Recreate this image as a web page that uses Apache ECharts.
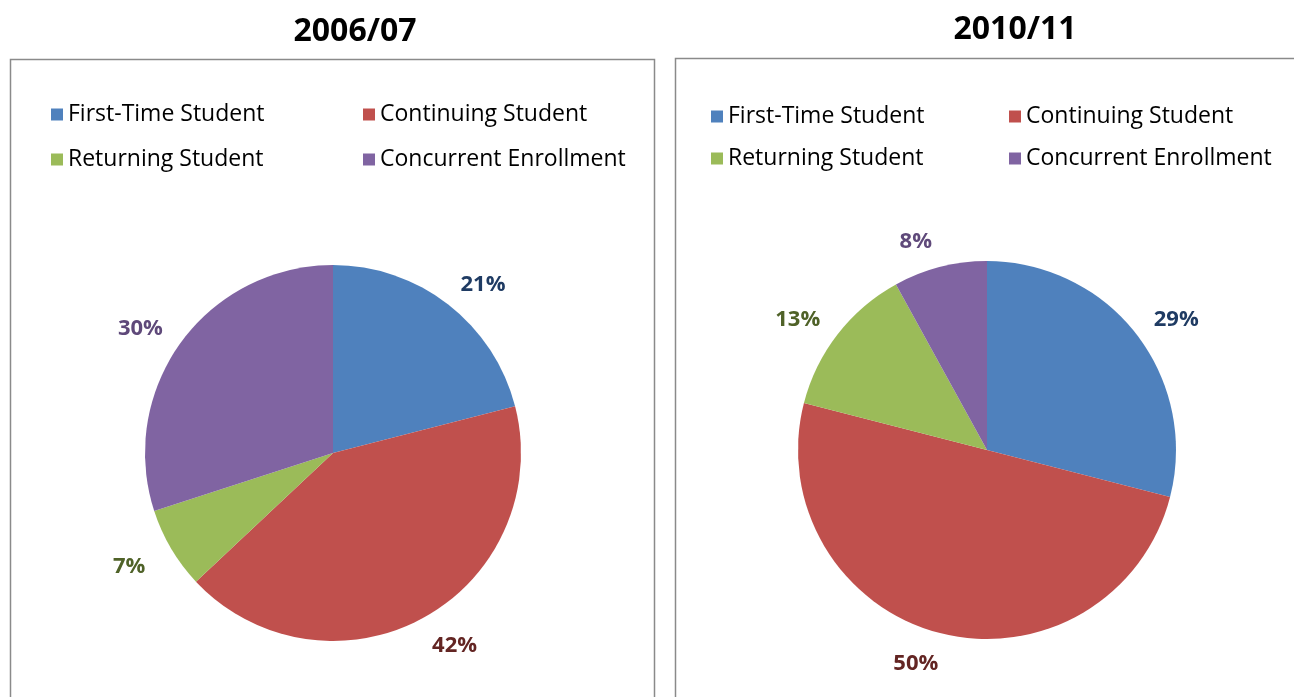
<!DOCTYPE html>
<html>
<head>
<meta charset="utf-8">
<script src="https://cdn.jsdelivr.net/npm/echarts@6/dist/echarts.min.js"></script>
<style>
  html, body { margin: 0; padding: 0; background: #fff; }
  #chart { width: 1294px; height: 697px; }
</style>
</head>
<body>
<div id="chart"></div>
<script>
const categories = ["First-Time Student", "Continuing Student", "Returning Student", "Concurrent Enrollment"];
const years = ["2006/07", "2010/11"];
const shares2006 = [21, 42, 7, 30];
const shares2010 = [29, 50, 13, 8];

const sliceColors = ["#4F81BD", "#C0504D", "#9BBB59", "#8064A2"];
const labelColors = ["#1F3B63", "#632523", "#4F6228", "#5F497A"];
const FONT = "'Open Sans', 'Noto Sans', sans-serif";

const chart = echarts.init(document.getElementById("chart"));

// place each % label just past the end of the (hidden) radial label line,
// nudged sideways a little like Excel's best-fit labels
function placeLabel(params) {
  const pts = params.labelLinePoints;
  if (!pts || pts.length < 2) return {};
  const side = pts[1][0] >= pts[0][0] ? 1 : -1;
  return { x: pts[1][0] + side * 17, y: pts[1][1] + 3, align: "center", verticalAlign: "middle" };
}

function buildPie(values, center, radius) {
  return {
    type: "pie",
    center,
    radius,
    startAngle: 90,
    clockwise: true,
    avoidLabelOverlap: false,
    silent: true,
    animation: false,
    label: {
      show: true,
      position: "outside",
      formatter: "{c}%",
      fontFamily: FONT,
      fontWeight: "bold",
      fontSize: 22,
    },
    labelLine: { show: true, length: 29, length2: 0, lineStyle: { width: 0, opacity: 0 } },
    labelLayout: placeLabel,
    itemStyle: { borderWidth: 0 },
    data: values.map((v, i) => ({
      name: categories[i],
      value: v,
      itemStyle: { color: sliceColors[i] },
      label: { color: labelColors[i] },
    })),
  };
}

function buildLegend(names, left, top, gap) {
  return {
    orient: "vertical",
    left,
    top,
    itemWidth: 12,
    itemHeight: 12,
    itemGap: gap,
    icon: "rect",
    selectedMode: false,
    textStyle: { fontFamily: FONT, fontSize: 23, color: "#000", padding: [0, 0, 0, 0] },
    data: names,
  };
}

chart.setOption({
  backgroundColor: "#fff",
  title: [
    { text: years[0], left: 350, top: 11, textAlign: "center",
      textStyle: { fontFamily: FONT, fontWeight: "bold", fontSize: 32, color: "#000" } },
    { text: years[1], left: 1010, top: 9, textAlign: "center",
      textStyle: { fontFamily: FONT, fontWeight: "bold", fontSize: 32, color: "#000" } },
  ],
  legend: [
    buildLegend([categories[0], categories[2]], 46, 98, 22),
    buildLegend([categories[1], categories[3]], 358, 98, 22),
    buildLegend([categories[0], categories[2]], 706, 100, 19),
    buildLegend([categories[1], categories[3]], 1004, 100, 19),
  ],
  graphic: [
    { type: "rect", shape: { x: 10.5, y: 59.5, width: 644, height: 660 },
      style: { fill: "none", stroke: "#8a8a8a", lineWidth: 1.5 }, silent: true },
    { type: "rect", shape: { x: 675.5, y: 58.5, width: 660, height: 660 },
      style: { fill: "none", stroke: "#8a8a8a", lineWidth: 1.5 }, silent: true },
  ],
  series: [
    buildPie(shares2006, [333, 453], 188),
    buildPie(shares2010, [987, 450], 189),
  ],
});
</script>
</body>
</html>
